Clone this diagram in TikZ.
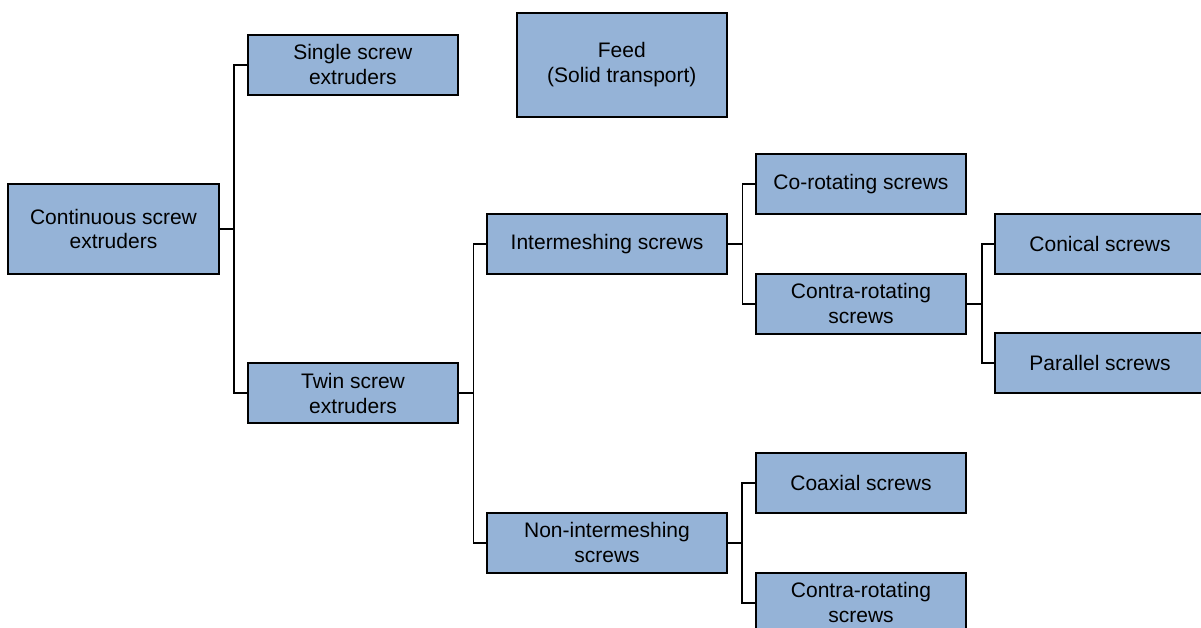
\documentclass[tikz,border=0pt]{standalone}
\usepackage{fontspec}
\setmainfont{Liberation Sans}
\definecolor{boxfill}{HTML}{95B3D7}
\begin{document}
\begin{tikzpicture}[x=1pt,y=1pt,
  box/.style={draw=black, fill=boxfill, line width=1.9pt, inner sep=0pt,
    align=center, minimum height=60pt, minimum width=210pt,
    font=\fontsize{21}{24.5}\selectfont},
  link/.style={draw=black, line width=1.8pt}]
\useasboundingbox (0,0) rectangle (1201,-628);
\node[box, minimum width=210.4pt, minimum height=90pt] (cont) at (113.5,-229) {Continuous screw\\extruders};
\node[box] (single) at (352.8,-64.7) {Single screw\\extruders};
\node[box, minimum height=104pt] (feed) at (621.8,-64.7) {Feed\\(Solid transport)};
\node[box] (twin) at (353,-393.3) {Twin screw\\extruders};
\node[box, minimum width=239.5pt] (inter) at (607,-244.2) {Intermeshing screws};
\node[box, minimum width=239.5pt] (nonint) at (607,-542.7) {Non-intermeshing\\screws};
\node[box] (corot) at (861,-184) {Co-rotating screws};
\node[box] (contraA) at (861,-303.7) {Contra-rotating\\screws};
\node[box] (conical) at (1100,-244) {Conical screws};
\node[box] (parallel) at (1100,-363.3) {Parallel screws};
\node[box] (coaxial) at (861,-482.7) {Coaxial screws};
\node[box] (contraB) at (861,-602.7) {Contra-rotating\\screws};
\draw[link] (cont.east) -- ++(14.7,0) |- (single.west);
\draw[link] (cont.east) -- ++(14.7,0) |- (twin.west);
\draw[link] (twin.east) -- ++(14.5,0) |- (inter.west);
\draw[link] (twin.east) -- ++(14.5,0) |- (nonint.west);
\draw[link] (inter.east) -- ++(14.7,0) |- (corot.west);
\draw[link] (inter.east) -- ++(14.7,0) |- (contraA.west);
\draw[link] (contraA.east) -- ++(14.7,0) |- (conical.west);
\draw[link] (contraA.east) -- ++(14.7,0) |- (parallel.west);
\draw[link] (nonint.east) -- ++(14.5,0) |- (coaxial.west);
\draw[link] (nonint.east) -- ++(14.5,0) |- (contraB.west);
\end{tikzpicture}
\end{document}
